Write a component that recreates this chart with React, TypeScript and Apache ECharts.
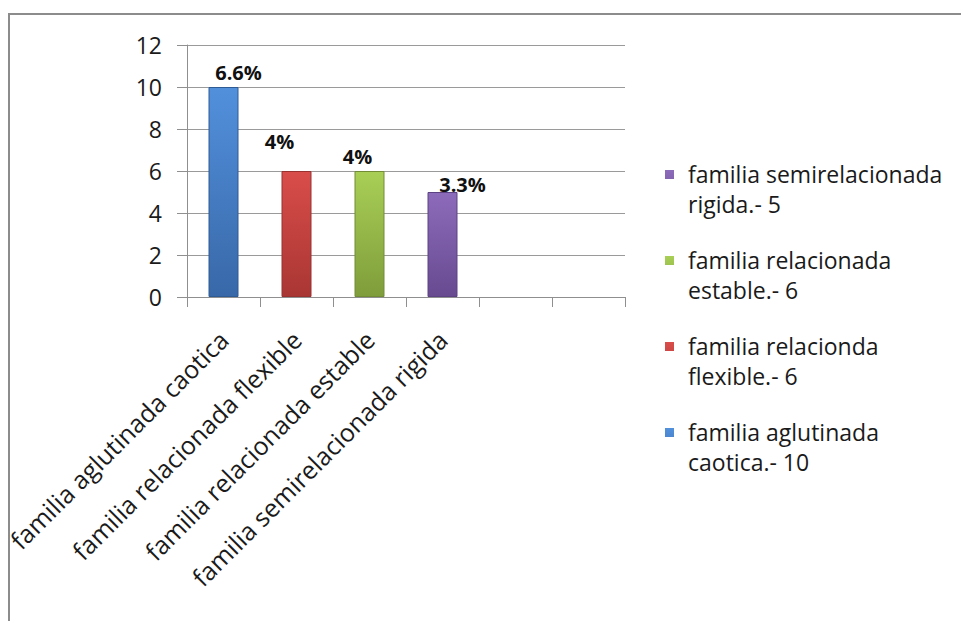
import React, { useEffect, useRef } from "react";
import * as echarts from "echarts";

// Category axis: four family types plus two empty slots on the right
const categories = [
  "familia aglutinada caotica",
  "familia relacionada flexible",
  "familia relacionada estable",
  "familia semirelacionada rigida",
  "",
  "",
];

// Number of families per type
const counts = [10, 6, 6, 5];

// Percentage labels shown above each bar
const percentLabels = ["6.6%", "4%", "4%", "3.3%"];

// Legend entries (one per bar)
const legendNames = [
  "familia aglutinada\ncaotica.- 10",
  "familia relacionda\nflexible.- 6",
  "familia relacionada\nestable.- 6",
  "familia semirelacionada\nrigida.- 5",
];

// Y-axis scale
const yMin = 0;
const yMax = 12;
const yStep = 2;

// Bar palette: [top, bottom, edge]
const palette = [
  ["#5290dc", "#3868a8", "#2f5b95"],
  ["#d94d4a", "#a93633", "#973230"],
  ["#a9cf56", "#7f9d3b", "#718c35"],
  ["#8d6bbb", "#674a90", "#5c4282"],
];

// Per-label nudges so each percentage sits where it reads best
const labelOffsets: [number, number][] = [
  [15, 0],
  [-17, -15],
  [-12, 0],
  [20, 7],
];

const FONT = "'Open Sans', 'Noto Sans', sans-serif";

// Legend marker: a square at the top-left of an 18x38 box, so the
// square lines up with the first line of a two-line legend entry and the
// text starts a little further to the right.
const LEGEND_ICON = "path://M0,0L9,0L9,9L0,9Z M18,38";

export default function App() {
  const ref = useRef<HTMLDivElement>(null);

  useEffect(() => {
    if (!ref.current) return;
    const chart = echarts.init(ref.current, null, { renderer: "svg" });

    const series = counts.map((v, i) => ({
      type: "bar" as const,
      name: legendNames[i],
      stack: "all",
      barWidth: 30,
      itemStyle: {
        color: new echarts.graphic.LinearGradient(0, 0, 0, 1, [
          { offset: 0, color: palette[i][0] },
          { offset: 1, color: palette[i][1] },
        ]),
        borderColor: palette[i][2],
        borderWidth: 1,
      },
      data: categories.map((_, j) =>
        j === i
          ? {
              value: v,
              label: {
                show: true,
                position: "top",
                distance: 5,
                offset: labelOffsets[i],
                formatter: percentLabels[i],
                fontFamily: FONT,
                fontWeight: "bold",
                fontSize: 20,
                color: "#111",
              },
            }
          : null
      ),
    }));

    chart.setOption({
      animation: false,
      backgroundColor: "#ffffff",
      textStyle: { fontFamily: FONT },
      graphic: [
        {
          type: "rect",
          silent: true,
          z: -10,
          shape: { x: 9, y: 14, width: 1000, height: 700 },
          style: { fill: "none", stroke: "#8c8c8c", lineWidth: 2 },
        },
      ],
      grid: { left: 187, right: 336, top: 45, bottom: 324, containLabel: false },
      legend: {
        orient: "vertical",
        left: 665,
        top: 159,
        padding: 0,
        icon: LEGEND_ICON,
        itemWidth: 18,
        itemHeight: 38,
        itemGap: 26,
        selectedMode: false,
        itemStyle: { borderWidth: 0 },
        data: [...legendNames].reverse(),
        textStyle: {
          fontFamily: FONT,
          fontSize: 23,
          color: "#1a1a1a",
          lineHeight: 30,
        },
      },
      xAxis: {
        type: "category",
        data: categories,
        boundaryGap: true,
        axisLine: { show: true, lineStyle: { color: "#8f8f8f", width: 1 } },
        axisTick: {
          show: true,
          interval: 0,
          length: 10,
          lineStyle: { color: "#8f8f8f" },
        },
        axisLabel: {
          interval: 0,
          rotate: 45,
          margin: 38,
          fontFamily: FONT,
          fontSize: 25,
          color: "#1a1a1a",
        },
        splitLine: { show: false },
      },
      yAxis: {
        type: "value",
        min: yMin,
        max: yMax,
        interval: yStep,
        axisLine: { show: true, lineStyle: { color: "#8f8f8f", width: 1 } },
        axisTick: { show: true, length: 10, lineStyle: { color: "#8f8f8f" } },
        axisLabel: {
          margin: 25,
          fontFamily: FONT,
          fontSize: 23,
          color: "#1a1a1a",
        },
        splitLine: { show: true, lineStyle: { color: "#9a9a9a", width: 1 } },
      },
      series,
    });

    return () => chart.dispose();
  }, []);

  return (
    <div
      ref={ref}
      style={{ position: "absolute", left: 0, top: 0, width: 961, height: 621 }}
    />
  );
}
